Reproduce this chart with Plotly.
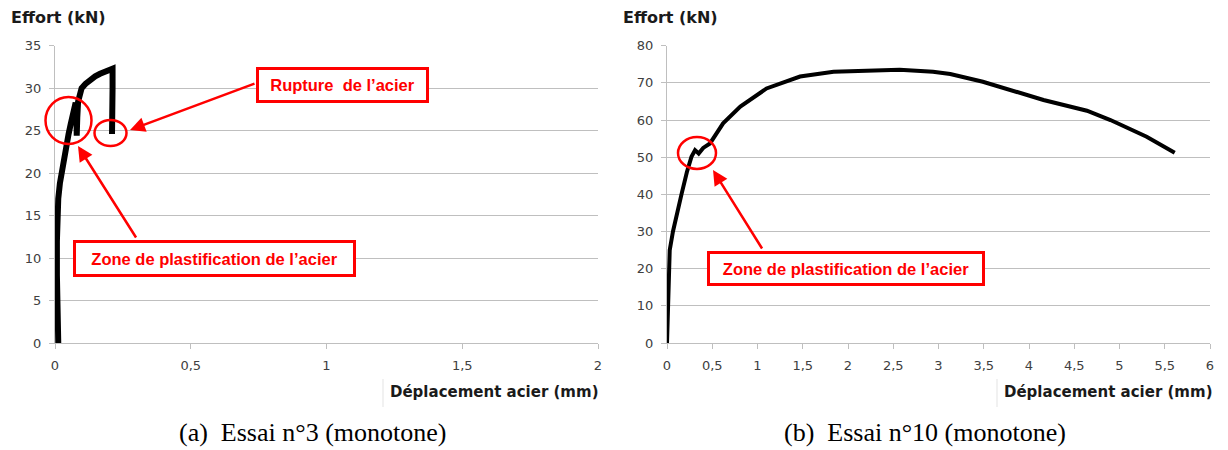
import plotly.graph_objects as go

# Essai n°3 (monotone)
depl_3 = [0.012, 0.008, 0.007, 0.007, 0.008, 0.012, 0.018, 0.025, 0.033, 0.042, 0.050, 0.058,
          0.066, 0.072, 0.076, 0.079, 0.080, 0.082, 0.085, 0.090, 0.098, 0.112, 0.129, 0.148,
          0.166, 0.185, 0.203, 0.212, 0.212, 0.211, 0.210, 0.210]
effort_3 = [0.0, 4.0, 8.0, 12.0, 15.0, 17.0, 18.8, 20.3, 21.8, 23.3, 24.6, 25.8,
            26.9, 27.7, 28.3, 27.0, 24.4, 26.5, 28.4, 29.3, 30.0, 30.5, 31.0, 31.4,
            31.7, 32.0, 32.3, 32.3, 30.0, 27.5, 25.5, 24.6]

# Essai n°10 (monotone)
depl_10 = [0.0, 0.01, 0.02, 0.03, 0.066, 0.11, 0.16, 0.22, 0.27, 0.31, 0.35, 0.40, 0.475,
           0.62, 0.81, 1.10, 1.47, 1.84, 2.21, 2.57, 2.94, 3.13, 3.49, 3.79, 4.16, 4.64,
           4.90, 5.30, 5.61]
effort_10 = [0.0, 10.0, 20.0, 25.0, 30.0, 35.0, 40.0, 46.0, 50.1, 51.9, 51.0, 52.5, 53.7,
             59.1, 63.6, 68.5, 71.7, 73.0, 73.3, 73.5, 73.0, 72.4, 70.3, 68.1, 65.4, 62.5,
             60.0, 55.5, 51.2]

W, H = 1228, 450
RED = "#ff0000"
GRID = "#bfbfbf"
TICKFONT = dict(family="DejaVu Sans", size=13, color="#404040")


def px(x):
    return x / W


def py(y):
    return 1 - y / H


fig = go.Figure()
fig.add_trace(go.Scatter(x=depl_3, y=effort_3, mode="lines",
                         line=dict(color="black", width=6), xaxis="x", yaxis="y"))
fig.add_trace(go.Scatter(x=depl_10, y=effort_10, mode="lines",
                         line=dict(color="black", width=4), xaxis="x2", yaxis="y2"))

xcommon = dict(showgrid=False, zeroline=False, showline=True, linecolor=GRID, linewidth=1,
               ticks="outside", ticklen=5, tickcolor=GRID, tickfont=TICKFONT,
               dtick=0.5, tick0=0, automargin=False, ticklabelstandoff=5)
ycommon = dict(showgrid=True, gridcolor=GRID, gridwidth=1, zeroline=False, showline=True,
               linecolor=GRID, linewidth=1, ticks="outside", ticklen=5, tickcolor=GRID,
               tickfont=TICKFONT, automargin=False, ticklabelstandoff=5)

fig.update_layout(
    width=W, height=H,
    margin=dict(l=0, r=0, t=0, b=0),
    paper_bgcolor="white", plot_bgcolor="white",
    showlegend=False,
    separators=", ",
    xaxis=dict(xcommon, domain=[px(55), px(598)], range=[0, 2], anchor="y"),
    yaxis=dict(ycommon, domain=[py(343), py(45.7)], range=[0, 35], dtick=5, anchor="x"),
    xaxis2=dict(xcommon, domain=[px(667), px(1210)], range=[0, 6], anchor="y2"),
    yaxis2=dict(ycommon, domain=[py(343), py(45.7)], range=[0, 80], dtick=10, anchor="x2"),
)

# axis titles
for xl in (9, 621):
    fig.add_annotation(xref="paper", yref="paper", x=px(xl), y=py(17), xanchor="left",
                       yanchor="middle", text="<b>Effort (kN)</b>", showarrow=False,
                       font=dict(family="DejaVu Sans", size=16, color="#1a1a1a"))
for xl in (388, 1002):
    fig.add_annotation(xref="paper", yref="paper", x=px(xl), y=py(392), xanchor="left",
                       yanchor="middle", text="<b>Déplacement acier (mm)</b>",
                       showarrow=False,
                       font=dict(family="DejaVu Sans", size=15, color="#1a1a1a"))
    fig.add_shape(type="line", xref="paper", yref="paper", x0=px(xl - 5), x1=px(xl - 5),
                  y0=py(379), y1=py(407), line=dict(color="#e3e3e3", width=1))

# captions
cap_font = dict(family="Liberation Serif", size=26, color="black")
fig.add_annotation(xref="paper", yref="paper", x=px(312), y=py(432), text="(a)  Essai n°3 (monotone)",
                   showarrow=False, font=cap_font, xanchor="center", yanchor="middle")
fig.add_annotation(xref="paper", yref="paper", x=px(925), y=py(432), text="(b)  Essai n°10 (monotone)",
                   showarrow=False, font=cap_font, xanchor="center", yanchor="middle")

# red circles
for cx, cy, rx, ry in [(68.5, 120.5, 23, 23.5), (110.5, 133, 16, 13), (697, 153, 19, 16)]:
    fig.add_shape(type="circle", xref="paper", yref="paper",
                  x0=px(cx - rx), x1=px(cx + rx), y0=py(cy + ry), y1=py(cy - ry),
                  line=dict(color=RED, width=2.5))

# arrows (head, tail)
for hx, hy, tx, ty in [(130, 130, 256, 83), (78, 146, 137, 239), (713, 170, 763, 250)]:
    fig.add_annotation(xref="paper", yref="paper", x=px(hx), y=py(hy), ax=tx - hx, ay=ty - hy,
                       text="", showarrow=True, arrowhead=2, arrowsize=1.2, arrowwidth=2.5,
                       arrowcolor=RED)

# red boxes
box_font = dict(family="Liberation Sans", size=16.5, color=RED)
for cx, cy, w, h, txt in [(342.5, 85, 173, 36, "Rupture  de l’acier"),
                          (214.4, 258, 283, 37, "Zone de plastification de l’acier"),
                          (846, 268.5, 278, 35, "Zone de plastification de l’acier")]:
    fig.add_annotation(xref="paper", yref="paper", x=px(cx), y=py(cy), xanchor="center",
                       yanchor="middle", text="<b>" + txt + "</b>", showarrow=False,
                       font=box_font, bgcolor="white", bordercolor=RED, borderwidth=3,
                       borderpad=0, width=w - 6, height=h - 6)

# page body has a default 8px margin; drop it so the figure fills the window
fig.write_html("out.html", config={"displayModeBar": False},
               post_script="document.body.style.margin='0';")
